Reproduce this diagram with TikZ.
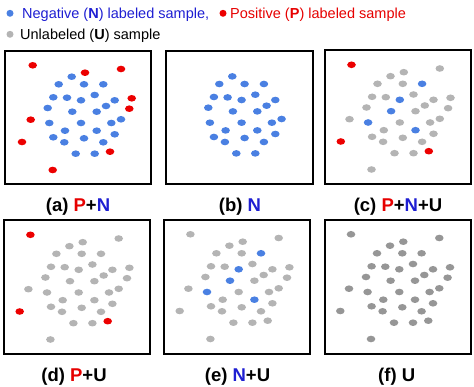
\documentclass[tikz,border=0pt]{standalone}
\usepackage{fontspec}
\setmainfont{Liberation Sans}
\definecolor{dotblue}{RGB}{74,128,226}
\definecolor{dotred}{RGB}{236,0,0}
\definecolor{dotgray}{RGB}{180,180,180}
\definecolor{dotdark}{RGB}{150,150,150}
\definecolor{txtblue}{RGB}{30,30,210}
\definecolor{txtred}{RGB}{230,0,0}
\def\samplepts{27.7/14.3/p, 80/21.7/r, 116/18/r, 66.7/25.7/u, 53.7/33.3/u, 79/33.3/u, 98.3/33.3/n, 48.3/46.3/u, 62/46.7/u, 76/49.3/n, 89.7/44/u, 109.7/49.3/u, 126.7/47.3/r, 101/55/u, 42.7/57/u, 67.3/60.7/n, 91.7/60.7/u, 124.3/57.7/r, 25.7/68.7/r, 44.3/72/n, 76/72/u, 106.3/72/u, 116/68.3/u, 60/79.7/u, 91.7/79.7/n, 109.7/83.3/u, 48.3/86.3/u, 59.3/91.3/u, 79/87.3/u, 98.3/91.3/u, 17/91/p, 70.7/102.7/u, 89.7/102.7/u, 105/100.7/p, 47.7/119/r}
\newcommand\drawsamples{\foreach \px/\py/\pc in \samplepts {\fill[cls\pc] (\px,\py) ellipse [x radius=4.3pt, y radius=3.3pt];}}
\begin{document}
\begin{tikzpicture}[x=1pt,y=-1pt,
  panel/.style={draw=black,line width=2pt},
  lbl/.style={anchor=base,font=\fontsize{18.5}{20}\selectfont\bfseries,inner sep=0pt},
  leg/.style={anchor=base west,font=\fontsize{14.5}{16}\selectfont,inner sep=0pt}]
\useasboundingbox (0,0) rectangle (474,387);
% legend
\fill[dotblue] (10,13.3) circle[radius=3.5pt];
\node[leg,text=txtblue] (ln) at (22,18.3) {Negative (\textbf{N}) labeled sample,};
\fill[dotred] (223,13.3) circle[radius=3.5pt];
\node[leg,text=txtred] (lp) at (230,18.3) {Positive (\textbf{P}) labeled sample};
\fill[dotgray] (10,34.3) circle[radius=3.5pt];
\node[leg] (lu) at (20,39.3) {Unlabeled (\textbf{U}) sample};
% boxes
\draw[panel] (4.5,51) rectangle (151,184.5);
\draw[panel] (166,51) rectangle (313,184.5);
\draw[panel] (325,50.5) rectangle (471,184.5);
\draw[panel] (3.5,220.5) rectangle (149.5,354);
\draw[panel] (164,220.5) rectangle (310,354);
\draw[panel] (324.5,220.5) rectangle (470.5,354);
% samples
\begin{scope}[shift={(5,51)},clsp/.style={fill=dotred},clsr/.style={fill=dotred},clsn/.style={fill=dotblue},clsu/.style={fill=dotblue}]
\drawsamples
\end{scope}
\begin{scope}[shift={(165.6,50.7)},clsp/.style={fill=none},clsr/.style={fill=none},clsn/.style={fill=dotblue},clsu/.style={fill=dotblue}]
\drawsamples
\end{scope}
\begin{scope}[shift={(323.8,50.5)},clsp/.style={fill=dotred},clsr/.style={fill=dotgray},clsn/.style={fill=dotblue},clsu/.style={fill=dotgray}]
\drawsamples
\end{scope}
\begin{scope}[shift={(2.7,220.5)},clsp/.style={fill=dotred},clsr/.style={fill=dotgray},clsn/.style={fill=dotgray},clsu/.style={fill=dotgray}]
\drawsamples
\end{scope}
\begin{scope}[shift={(162.7,220)},clsp/.style={fill=dotgray},clsr/.style={fill=dotgray},clsn/.style={fill=dotblue},clsu/.style={fill=dotgray}]
\drawsamples
\end{scope}
\begin{scope}[shift={(323.3,220)},clsp/.style={fill=dotdark},clsr/.style={fill=dotdark},clsn/.style={fill=dotdark},clsu/.style={fill=dotdark}]
\drawsamples
\end{scope}
% labels
\node[lbl] (la) at (78,211.7) {(a) \textcolor{txtred}{P}+\textcolor{txtblue}{N}};
\node[lbl] (lb) at (240,211.7) {(b) \textcolor{txtblue}{N}};
\node[lbl] (lc) at (398,211.7) {(c) \textcolor{txtred}{P}+\textcolor{txtblue}{N}+U};
\node[lbl] (ld) at (74,381.7) {(d) \textcolor{txtred}{P}+U};
\node[lbl] (le) at (237.5,381.7) {(e) \textcolor{txtblue}{N}+U};
\node[lbl] (lf) at (396.7,381.7) {(f) U};
\end{tikzpicture}
\end{document}
